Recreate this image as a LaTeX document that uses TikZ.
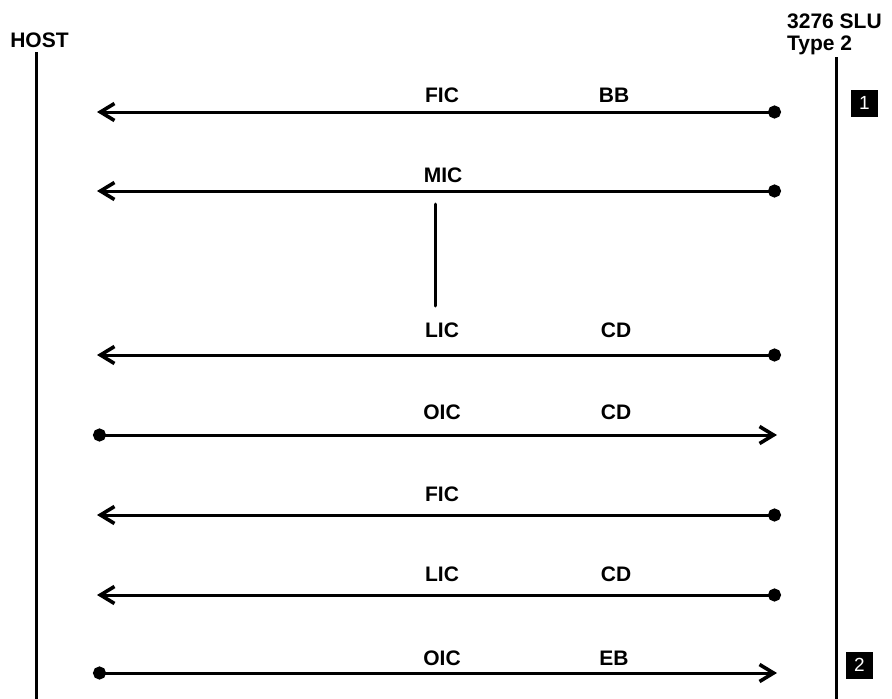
\documentclass[tikz,border=0pt]{standalone}
\usepackage{fontspec}
\setmainfont{Liberation Sans}
\usetikzlibrary{arrows.meta}

\tikzset{
  msg/.style={line width=3pt, {Circle[length=13pt]}-{Straight Barb[length=14pt,width=17pt,line width=3.6pt]}},
  lbl/.style={font=\fontsize{21}{23}\selectfont\bfseries, inner sep=0pt},
  lifeline/.style={line width=3pt},
  numbox/.style={fill=black, text=white, minimum width=27pt, minimum height=27pt, inner sep=0pt, font=\fontsize{19}{19}\selectfont}
}

\begin{document}
\begin{tikzpicture}[x=1pt, y=-1pt]
            \useasboundingbox (0, 0) rectangle (892, 699);

            % stations
            \node[lbl] (host) at (39.5, 40) {HOST};
            \node[lbl, anchor=base west] (slu) at (787, 28) {3276 SLU};
            \node[lbl, anchor=base west] (slutype) at (787, 50) {Type 2};
            \coordinate (hosttop) at (36.5, 52);
            \coordinate (hostbot) at (36.5, 699);
            \coordinate (slutop) at (836.5, 57);
            \coordinate (slubot) at (836.5, 699);
            \draw[lifeline] (hosttop) -- (hostbot);
            \draw[lifeline] (slutop) -- (slubot);

            \node[numbox] (n1) at (864.5, 103) {1};
            \node[numbox] (n2) at (859.5, 665) {2};

            % row end points (dot ends sit a little further out)
            \coordinate (l1) at (97, 112);  \coordinate (r1) at (781, 112);
            \coordinate (l2) at (97, 191);  \coordinate (r2) at (781, 191);
            \coordinate (l3) at (97, 355);  \coordinate (r3) at (781, 355);
            \coordinate (l4) at (93, 435);  \coordinate (r4) at (777, 435);
            \coordinate (l5) at (97, 515);  \coordinate (r5) at (781, 515);
            \coordinate (l6) at (97, 595);  \coordinate (r6) at (781, 595);
            \coordinate (l7) at (93, 673);  \coordinate (r7) at (777, 673);

            % chain of requests
            \draw[msg] (r1) -- (l1);
            \node[lbl] (fic1) at (442, 95.5) {FIC};
            \node[lbl] (bb) at (614, 95.5) {BB};

            \draw[msg] (r2) -- (l2);
            \node[lbl] (mic) at (443, 175.5) {MIC};

            \coordinate (gaptop) at (435.5, 204);
            \coordinate (gapbot) at (435.5, 306);
            \draw[lifeline, line cap=round] (gaptop) -- (gapbot);

            \draw[msg] (r3) -- (l3);
            \node[lbl] (lic1) at (442, 330) {LIC};
            \node[lbl] (cd1) at (616, 330) {CD};

            % response
            \draw[msg] (l4) -- (r4);
            \node[lbl] (oic1) at (442, 412) {OIC};
            \node[lbl] (cd2) at (616, 412) {CD};

            % second chain
            \draw[msg] (r5) -- (l5);
            \node[lbl] (fic2) at (442, 494) {FIC};

            \draw[msg] (r6) -- (l6);
            \node[lbl] (lic2) at (442, 574) {LIC};
            \node[lbl] (cd3) at (616, 574) {CD};

            \draw[msg] (l7) -- (r7);
            \node[lbl] (oic2) at (442, 658) {OIC};
            \node[lbl] (eb) at (614, 658) {EB};
        \end{tikzpicture}
\end{document}
